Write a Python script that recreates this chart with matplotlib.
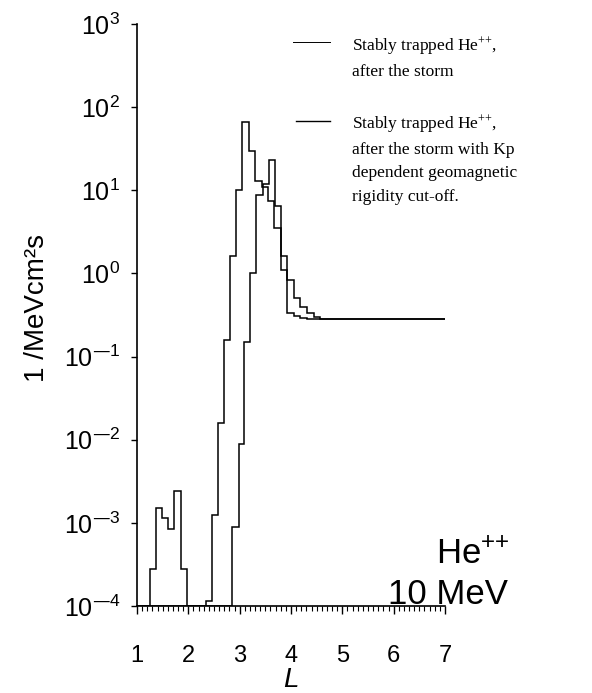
import matplotlib
matplotlib.use("Agg")
import matplotlib.pyplot as plt
from matplotlib.lines import Line2D
from matplotlib.ticker import FuncFormatter, NullLocator
import numpy as np

plt.rcParams['font.family'] = ['Liberation Sans', 'DejaVu Sans']
plt.rcParams['mathtext.default'] = 'regular'

# step edges (L) and flux levels
edges_storm = [1.0, 1.25, 1.37, 1.48, 1.61, 1.73, 1.85, 1.98, 2.34, 2.46, 2.58,
               2.70, 2.82, 2.93, 3.05, 3.18, 3.30, 3.43, 3.55, 3.67, 3.80, 3.92,
               4.05, 4.18, 4.31, 4.44, 7.0]
flux_storm = [1e-4, 2.8e-4, 1.5e-3, 1.15e-3, 8.5e-4, 2.4e-3, 2.8e-4, 1e-4,
              1.15e-4, 1.25e-3, 1.6e-2, 0.16, 1.6, 10, 66, 30, 13, 11, 7.4,
              3.5, 1.1, 0.33, 0.31, 0.29, 0.28, 0.28]

edges_kp = [1.0, 2.86, 2.98, 3.09, 3.20, 3.32, 3.46, 3.58, 3.68, 3.80, 3.93,
            4.05, 4.18, 4.31, 4.44, 4.56, 7.0]
flux_kp = [1e-4, 9e-4, 9e-3, 0.15, 1.0, 8.7, 12, 23, 6.5, 1.6, 0.83, 0.5,
           0.40, 0.33, 0.30, 0.28]

legend_labels = ["Stably trapped He$^{{+}{+}}$,\nafter the storm",
                 "Stably trapped He$^{{+}{+}}$,\nafter the storm with Kp\n"
                 "dependent geomagnetic\nrigidity cut-off."]

W, H = 592, 693
fig = plt.figure(figsize=(W / 100, H / 100), dpi=100)
ax = fig.add_axes([137 / W, 1 - 606 / H, (445 - 137) / W, (606 - 24) / H])

ax.stairs(flux_storm, edges_storm, baseline=None, color='black', lw=1.1)
ax.stairs(flux_kp, edges_kp, baseline=None, color='black', lw=1.1)

ax.set_yscale('log')
ax.set_ylim(1e-4, 1e3)
ax.set_xlim(1, 7)
ax.set_xticks(range(1, 8))
ax.set_xticks([1 + i / 10 for i in range(61)], minor=True)
ax.yaxis.set_minor_locator(NullLocator())


def pow_label(v, pos):
    e = int(round(np.log10(v)))
    if e < 0:
        return "$10^{\u2014%d}$" % (-e)
    return "$10^{%d}$" % e


ax.yaxis.set_major_formatter(FuncFormatter(pow_label))

for s in ['top', 'right']:
    ax.spines[s].set_visible(False)
ax.spines['left'].set_linewidth(1.2)
ax.spines['bottom'].set_linewidth(1.2)

ax.tick_params(axis='x', which='major', direction='out', length=6, width=1,
               labelsize=17, pad=22)
ax.tick_params(axis='x', which='minor', direction='out', length=3.5, width=0.8)
ax.tick_params(axis='y', which='major', direction='out', length=4, width=1,
               labelsize=18, pad=8)

fx = lambda x: x / W
fy = lambda y: 1 - y / H

fig.text(fx(291), fy(680), "L", fontsize=20, style='italic',
         ha='center', va='center')
fig.text(fx(37), fy(308), "1 /MeVcm²s", fontsize=20, rotation=90,
         ha='center', va='center')

# legend drawn by hand
fig.add_artist(Line2D([fx(293), fx(330)], [fy(42), fy(42)], color='black', lw=0.7))
fig.add_artist(Line2D([fx(296), fx(330)], [fy(121), fy(121)], color='black', lw=1.0))
fig.text(fx(352), fy(35), legend_labels[0], family='Liberation Serif',
         fontsize=12.5, va='top', ha='left', linespacing=1.6)
fig.text(fx(352), fy(113), legend_labels[1], family='Liberation Serif',
         fontsize=12.5, va='top', ha='left', linespacing=1.6)

fig.text(fx(510), fy(554), "He$^{{+}{+}}$", fontsize=25, ha='right', va='center')
fig.text(fx(508), fy(595), "10 MeV", fontsize=25, ha='right', va='center')

fig.savefig("out.png", dpi=100)
